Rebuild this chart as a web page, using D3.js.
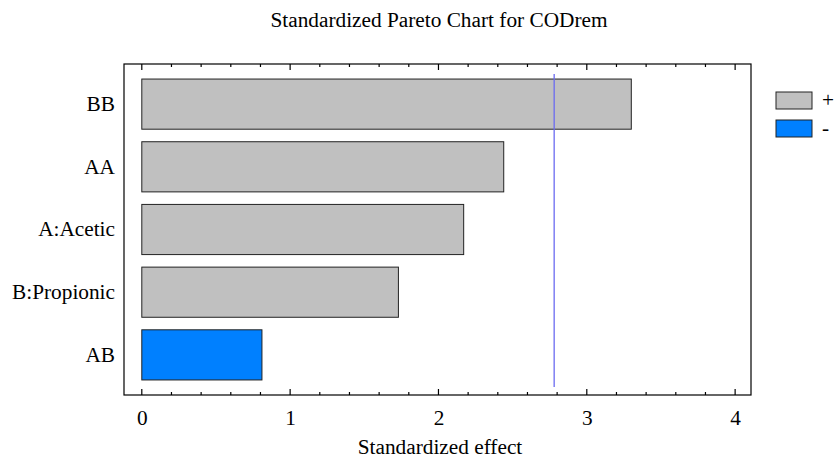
<!DOCTYPE html>
<html>
<head>
<meta charset="utf-8">
<script src="https://cdn.jsdelivr.net/npm/d3@7"></script>
<style>
  html, body { margin: 0; padding: 0; background: #fff; }
</style>
</head>
<body>
<svg id="chart" width="835" height="460"></svg>
<script>
// Effects, ordered from largest to smallest standardized effect
const effects = ["BB", "AA", "A:Acetic", "B:Propionic", "AB"];
const effectValues = [3.30, 2.44, 2.17, 1.73, 0.81];
const effectSigns = ["+", "+", "+", "+", "-"];
const criticalValue = 2.78;
const xTicks = [0, 1, 2, 3, 4];
const legendLabels = ["+", "-"];

const colors = { "+": "#c0c0c0", "-": "#0080ff" };
const FONT = "Liberation Serif";
const FS = 21.3;

const svg = d3.select("#chart");
const frame = { left: 124, right: 751, top: 64, bottom: 395 };

const x = d3.scaleLinear().domain([-0.12, 4.107]).range([frame.left, frame.right]);
const y = d3.scaleBand().domain(effects).range([frame.top, frame.bottom])
  .paddingInner(0.2).paddingOuter(0.24);

function label(sel) {
  return sel.attr("font-family", FONT).attr("font-size", FS).attr("fill", "#000");
}

// Title
label(svg.append("text"))
  .attr("x", 439).attr("y", 27)
  .attr("text-anchor", "middle")
  .text("Standardized Pareto Chart for CODrem");

// Bars
svg.append("g").selectAll("rect")
  .data(effects)
  .join("rect")
  .attr("x", x(0))
  .attr("y", d => y(d))
  .attr("width", (d, i) => x(effectValues[i]) - x(0))
  .attr("height", y.bandwidth())
  .attr("fill", (d, i) => colors[effectSigns[i]])
  .attr("stroke", "#222")
  .attr("stroke-width", 1);

// Critical value line
svg.append("line")
  .attr("x1", x(criticalValue)).attr("x2", x(criticalValue))
  .attr("y1", 74).attr("y2", 387)
  .attr("stroke", "#6a6af0")
  .attr("stroke-width", 1.3);

// Frame
svg.append("rect")
  .attr("x", frame.left).attr("y", frame.top)
  .attr("width", frame.right - frame.left)
  .attr("height", frame.bottom - frame.top)
  .attr("fill", "none")
  .attr("stroke", "#000")
  .attr("stroke-width", 1.2);

// Tick labels along the bottom
const minorTicks = d3.range(0, 4.001, 0.2).filter(v => Math.abs(v - Math.round(v)) > 1e-6);
const bottomAxis = d3.axisBottom(x).tickValues(xTicks).tickSize(0).tickPadding(15)
  .tickFormat(d3.format("d"));
const gb = svg.append("g").attr("transform", `translate(0,${frame.bottom})`).call(bottomAxis);
gb.select(".domain").remove();
gb.attr("font-family", FONT).attr("font-size", FS);
label(gb.selectAll("text"));

// Ticks on bottom and top edges, pointing inward
const tickG = svg.append("g").attr("stroke", "#000").attr("stroke-width", 1.2);
xTicks.forEach(v => {
  tickG.append("line").attr("x1", x(v)).attr("x2", x(v)).attr("y1", frame.bottom).attr("y2", frame.bottom - 6);
  tickG.append("line").attr("x1", x(v)).attr("x2", x(v)).attr("y1", frame.top).attr("y2", frame.top + 6);
});
minorTicks.forEach(v => {
  tickG.append("line").attr("x1", x(v)).attr("x2", x(v)).attr("y1", frame.bottom).attr("y2", frame.bottom - 3);
  tickG.append("line").attr("x1", x(v)).attr("x2", x(v)).attr("y1", frame.top).attr("y2", frame.top + 3);
});

// Category labels
const leftAxis = d3.axisLeft(y).tickSize(0).tickPadding(9);
const gl = svg.append("g").attr("transform", `translate(${frame.left},0)`).call(leftAxis);
gl.select(".domain").remove();
gl.attr("font-family", FONT).attr("font-size", FS);
label(gl.selectAll("text"));

// Axis title
label(svg.append("text"))
  .attr("x", 440).attr("y", 454)
  .attr("text-anchor", "middle")
  .text("Standardized effect");

// Legend
const legend = svg.append("g");
legendLabels.forEach((s, i) => {
  legend.append("rect")
    .attr("x", 776).attr("y", 92 + i * 28)
    .attr("width", 36).attr("height", 17)
    .attr("fill", colors[s])
    .attr("stroke", "#222");
  label(legend.append("text"))
    .attr("x", 822).attr("y", 107 + i * 28)
    .text(s);
});
</script>
</body>
</html>
